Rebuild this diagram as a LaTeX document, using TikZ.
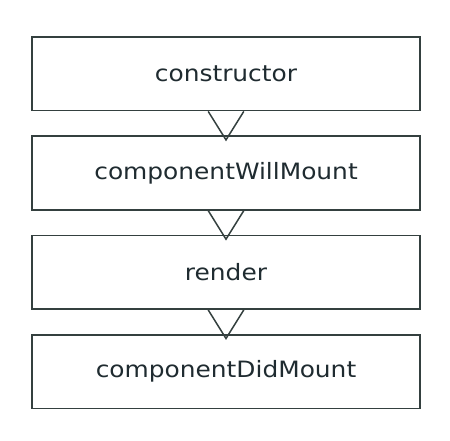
\documentclass[tikz,border=0pt]{standalone}
\usepackage{fontspec}
\setmainfont{DejaVu Sans}[FakeStretch=1.105]
\definecolor{edge}{HTML}{34403F}
\definecolor{txt}{HTML}{1F2B30}
\begin{document}
\begin{tikzpicture}[x=1pt,y=1pt,
  stage/.style={draw=edge, line width=1.5pt, fill=white, minimum width=388pt, minimum height=73.7pt, inner sep=0pt, text=txt, font=\fontsize{22.5}{26}\selectfont},
  vee/.style={draw=edge, line width=1.5pt, line join=miter}]
\useasboundingbox (0,0) rectangle (450,440);
\node[stage] (b1) at (226,366.2) {constructor};
\node[stage] (b2) at (226,267) {componentWillMount};
\node[stage] (b3) at (226,167.7) {render};
\node[stage] (b4) at (226,68.4) {componentDidMount};
\foreach \a/\b in {b1/b2,b2/b3,b3/b4}{
  \draw[vee] ([xshift=-17.8pt]\a.south) -- ([yshift=-4.5pt]\b.north -| \a.south) -- ([xshift=17.8pt]\a.south);
}
\end{tikzpicture}
\end{document}
